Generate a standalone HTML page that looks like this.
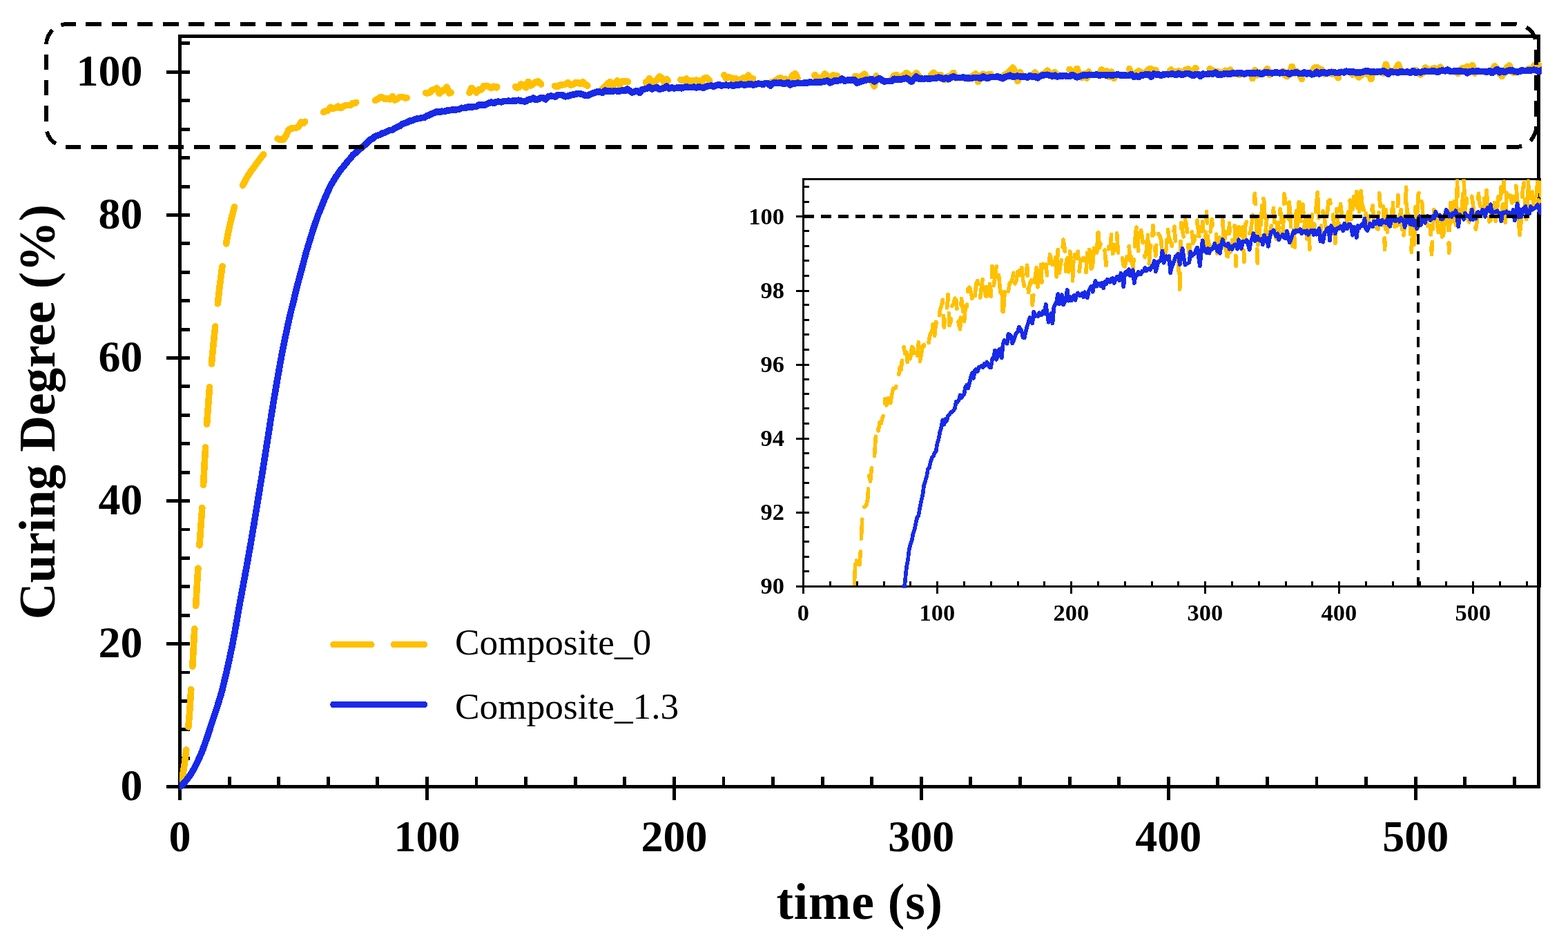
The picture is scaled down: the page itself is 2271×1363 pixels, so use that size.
<!DOCTYPE html>
<html lang="en"><head><meta charset="utf-8"><title>Curing Degree vs time</title>
<style>html,body{margin:0;padding:0;background:#fff}body{width:2271px;height:1363px;overflow:hidden}svg{display:block}</style>
</head><body>
<svg width="2271" height="1363" viewBox="0 0 2271 1363" role="img" aria-label="Curing degree versus time for Composite_0 and Composite_1.3">
<rect width="2271" height="1363" fill="#fff"/>
<defs>
<clipPath id="cm"><rect x="259.9" y="52.5" width="1973.0" height="1091.5"/></clipPath>
<clipPath id="ci"><rect x="1163.6" y="259.5" width="1068.6" height="592.3"/></clipPath>
</defs>
<g stroke="#000" stroke-width="4.9" fill="none" stroke-linecap="butt" shape-rendering="crispEdges">
<path d="M260.5,1158.9 V52.5 H2228.7 V1142.05"/>
<path d="M241.0,1139.6 H2231.15"/>
<path d="M260.5,1098.2 H275.2"/>
<path d="M260.5,1056.8 H275.2"/>
<path d="M260.5,1015.4 H275.2"/>
<path d="M260.5,974.0 H275.2"/>
<path d="M241.0,932.6 H275.2"/>
<path d="M260.5,891.2 H275.2"/>
<path d="M260.5,849.8 H275.2"/>
<path d="M260.5,808.4 H275.2"/>
<path d="M260.5,767.0 H275.2"/>
<path d="M241.0,725.6 H275.2"/>
<path d="M260.5,684.2 H275.2"/>
<path d="M260.5,642.8 H275.2"/>
<path d="M260.5,601.3 H275.2"/>
<path d="M260.5,559.9 H275.2"/>
<path d="M241.0,518.5 H275.2"/>
<path d="M260.5,477.1 H275.2"/>
<path d="M260.5,435.7 H275.2"/>
<path d="M260.5,394.3 H275.2"/>
<path d="M260.5,352.9 H275.2"/>
<path d="M241.0,311.5 H275.2"/>
<path d="M260.5,270.1 H275.2"/>
<path d="M260.5,228.7 H275.2"/>
<path d="M260.5,187.3 H275.2"/>
<path d="M260.5,145.9 H275.2"/>
<path d="M241.0,104.5 H275.2"/>
<path d="M260.5,62.6 H275.2"/>
<path d="M332.1,1125.1 V1139.6"/>
<path d="M403.7,1125.1 V1139.6"/>
<path d="M475.3,1125.1 V1139.6"/>
<path d="M546.9,1125.1 V1139.6"/>
<path d="M618.4,1125.1 V1158.9"/>
<path d="M690.0,1125.1 V1139.6"/>
<path d="M761.6,1125.1 V1139.6"/>
<path d="M833.2,1125.1 V1139.6"/>
<path d="M904.8,1125.1 V1139.6"/>
<path d="M976.4,1125.1 V1158.9"/>
<path d="M1048.0,1125.1 V1139.6"/>
<path d="M1119.6,1125.1 V1139.6"/>
<path d="M1191.2,1125.1 V1139.6"/>
<path d="M1262.7,1125.1 V1139.6"/>
<path d="M1334.3,1125.1 V1158.9"/>
<path d="M1405.9,1125.1 V1139.6"/>
<path d="M1477.5,1125.1 V1139.6"/>
<path d="M1549.1,1125.1 V1139.6"/>
<path d="M1620.7,1125.1 V1139.6"/>
<path d="M1692.3,1125.1 V1158.9"/>
<path d="M1763.9,1125.1 V1139.6"/>
<path d="M1835.5,1125.1 V1139.6"/>
<path d="M1907.0,1125.1 V1139.6"/>
<path d="M1978.6,1125.1 V1139.6"/>
<path d="M2050.2,1125.1 V1158.9"/>
<path d="M2121.8,1125.1 V1139.6"/>
<path d="M2193.4,1125.1 V1139.6"/>
</g>
<g fill="none" stroke-linejoin="round" clip-path="url(#cm)" shape-rendering="crispEdges">
<polyline points="260.5,1139.6 264.1,1126.7 267.7,1103.4 271.2,1074.0 274.8,1028.9 278.4,973.0 282.0,906.8 285.6,843.5 289.1,788.0 292.7,737.4 296.3,669.9 299.9,610.1 303.5,561.3 307.0,520.1 310.6,483.6 314.2,449.8 317.8,417.9 321.4,390.0 324.9,367.5 328.5,347.8 332.1,329.4 335.7,314.4 339.2,300.9 342.8,289.3 346.4,279.4 350.0,271.5 353.6,264.7 357.1,257.9 360.7,252.0 364.3,247.0 367.9,242.0 371.5,237.1 375.0,232.4 378.6,227.4 382.2,223.1 385.8,220.5 389.4,217.0 392.9,213.4 396.5,207.6 400.1,199.5 403.7,201.8 407.3,201.8 410.8,201.9 414.4,196.1 418.0,188.1 421.6,185.8 425.2,185.7 428.7,185.3 432.3,183.5 435.9,177.0 439.5,178.6 443.1,174.6 446.6,174.3 450.2,171.9 453.8,165.8 457.4,163.3 460.9,164.4 464.5,162.1 468.1,162.4 471.7,160.8 475.3,159.9 478.8,155.4 482.4,157.3 486.0,156.4 489.6,154.1 493.2,156.6 496.7,154.5 500.3,152.5 503.9,152.5 507.5,152.4 511.1,149.5 514.6,149.3 518.2,146.7 521.8,147.4 525.4,143.1 529.0,141.0 532.5,142.9 536.1,142.5 539.7,146.5 543.3,145.4 546.9,143.7 550.4,140.9 554.0,141.2 557.6,143.5 561.2,142.5 564.8,143.8 568.3,139.6 571.9,145.0 575.5,143.1 579.1,140.6 582.7,140.4 586.2,141.7 589.8,141.7 593.4,141.4 597.0,138.4 600.5,137.1 604.1,136.7 607.7,133.9 611.3,137.8 614.9,133.9 618.4,135.0 622.0,134.3 625.6,130.6 629.2,129.6 632.8,127.7 636.3,135.5 639.9,131.2 643.5,131.1 647.1,126.2 650.7,135.0 654.2,133.8 657.8,129.5 661.4,129.1 665.0,127.4 668.6,127.8 672.1,132.1 675.7,134.6 679.3,136.0 682.9,127.4 686.5,130.6 690.0,134.2 693.6,129.5 697.2,129.8 700.8,124.6 704.4,124.3 707.9,125.5 711.5,127.4 715.1,125.1 718.7,126.8 722.2,123.2 725.8,122.4 729.4,124.8 733.0,127.2 736.6,124.0 740.1,121.5 743.7,121.5 747.3,126.7 750.9,126.7 754.5,122.0 758.0,122.8 761.6,126.9 765.2,118.3 768.8,124.0 772.4,121.4 775.9,118.7 779.5,117.9 783.1,121.3 786.7,125.8 790.3,123.7 793.8,132.8 797.4,127.1 801.0,123.8 804.6,125.0 808.2,125.3 811.7,123.1 815.3,122.8 818.9,122.0 822.5,119.8 826.1,123.3 829.6,122.4 833.2,119.9 836.8,119.6 840.4,121.6 844.0,118.7 847.5,122.4 851.1,124.1 854.7,121.8 858.3,118.1 861.8,125.7 865.4,123.3 869.0,122.3 872.6,129.3 876.2,125.5 879.7,121.5 883.3,118.7 886.9,124.2 890.5,121.2 894.1,116.9 897.6,122.9 901.2,117.7 904.8,118.3 908.4,117.9 912.0,120.9 915.5,120.4 919.1,115.1 922.7,116.3 926.3,118.0 929.9,117.9 933.4,115.3 937.0,121.4 940.6,113.7 944.2,120.3 947.8,117.8 951.3,116.0 954.9,110.9 958.5,113.1 962.1,119.8 965.7,114.4 969.2,119.9 972.8,114.2 976.4,116.6 980.0,122.5 983.5,114.3 987.1,116.2 990.7,116.2 994.3,114.2 997.9,119.9 1001.4,116.5 1005.0,116.7 1008.6,116.1 1012.2,117.0 1015.8,120.2 1019.3,113.9 1022.9,112.4 1026.5,115.3 1030.1,120.7 1033.7,117.9 1037.2,113.1 1040.8,113.0 1044.4,115.3 1048.0,107.2 1051.6,113.2 1055.1,112.0 1058.7,112.5 1062.3,114.5 1065.9,113.8 1069.5,118.2 1073.0,115.3 1076.6,112.8 1080.2,113.4 1083.8,109.0 1087.4,114.9 1090.9,113.8 1094.5,110.8 1098.1,109.0 1101.7,114.9 1105.3,115.3 1108.8,114.4 1112.4,115.6 1116.0,118.3 1119.6,118.5 1123.1,116.7 1126.7,114.2 1130.3,112.5 1133.9,116.9 1137.5,114.3 1141.0,119.2 1144.6,114.9 1148.2,109.0 1151.8,106.5 1155.4,114.1 1158.9,110.8 1162.5,108.3 1166.1,110.2 1169.7,114.5 1173.3,115.9 1176.8,114.3 1180.4,108.5 1184.0,118.1 1187.6,112.4 1191.2,113.0 1194.7,107.0 1198.3,111.3 1201.9,115.5 1205.5,109.2 1209.1,109.3 1212.6,109.9 1216.2,110.9 1219.8,115.4 1223.4,113.9 1227.0,115.6 1230.5,113.3 1234.1,107.7 1237.7,110.7 1241.3,111.1 1244.8,112.7 1248.4,110.0 1252.0,107.2 1255.6,112.9 1259.2,114.3 1262.7,118.1 1266.3,124.8 1269.9,106.2 1273.5,108.5 1277.1,110.4 1280.6,105.3 1284.2,106.7 1287.8,111.9 1291.4,115.1 1295.0,109.3 1298.5,108.7 1302.1,111.9 1305.7,111.0 1309.3,108.7 1312.9,105.5 1316.4,108.9 1320.0,111.1 1323.6,110.6 1327.2,105.8 1330.8,110.2 1334.3,113.1 1337.9,103.0 1341.5,110.5 1345.1,113.8 1348.7,108.3 1352.2,105.2 1355.8,108.9 1359.4,109.0 1363.0,108.7 1366.6,115.0 1370.1,115.6 1373.7,110.3 1377.3,111.7 1380.9,105.4 1384.4,113.0 1388.0,108.6 1391.6,115.5 1395.2,115.7 1398.8,106.3 1402.3,114.4 1405.9,111.7 1409.5,109.3 1413.1,106.9 1416.7,118.4 1420.2,109.3 1423.8,107.3 1427.4,110.4 1431.0,108.1 1434.6,107.4 1438.1,117.1 1441.7,106.7 1445.3,105.8 1448.9,107.7 1452.5,109.2 1456.0,108.3 1459.6,105.6 1463.2,102.5 1466.8,98.0 1470.4,104.3 1473.9,117.5 1477.5,104.5 1481.1,110.7 1484.7,103.7 1488.3,98.6 1491.8,100.3 1495.4,109.1 1499.0,104.8 1502.6,110.3 1506.2,110.5 1509.7,107.6 1513.3,106.2 1516.9,102.1 1520.5,107.7 1524.0,110.8 1527.6,104.4 1531.2,109.5 1534.8,102.3 1538.4,105.6 1541.9,109.8 1545.5,98.1 1549.1,100.6 1552.7,103.5 1556.3,105.1 1559.8,99.4 1563.4,108.2 1567.0,112.7 1570.6,106.8 1574.2,113.1 1577.7,101.4 1581.3,108.9 1584.9,98.6 1588.5,105.3 1592.1,106.6 1595.6,101.0 1599.2,108.5 1602.8,103.0 1606.4,111.3 1610.0,104.2 1613.5,113.7 1617.1,106.3 1620.7,103.3 1624.3,109.2 1627.9,105.6 1631.4,100.9 1635.0,96.8 1638.6,109.0 1642.2,110.4 1645.7,105.1 1649.3,102.8 1652.9,104.8 1656.5,107.6 1660.1,104.1 1663.6,100.2 1667.2,99.8 1670.8,102.0 1674.4,102.0 1678.0,106.9 1681.5,112.4 1685.1,102.3 1688.7,106.3 1692.3,106.7 1695.9,100.9 1699.4,104.1 1703.0,104.5 1706.6,103.0 1710.2,103.7 1713.8,106.6 1717.3,101.1 1720.9,99.8 1724.5,105.7 1728.1,103.5 1731.7,98.8 1735.2,101.2 1738.8,97.5 1742.4,104.4 1746.0,102.9 1749.6,95.7 1753.1,101.0 1756.7,102.0 1760.3,105.1 1763.9,103.5 1767.5,106.3 1771.0,105.6 1774.6,102.3 1778.2,103.2 1781.8,101.3 1785.3,106.0 1788.9,105.3 1792.5,107.7 1796.1,108.0 1799.7,97.9 1803.2,103.1 1806.8,103.3 1810.4,101.5 1814.0,113.7 1817.6,101.4 1821.1,108.9 1824.7,104.9 1828.3,106.2 1831.9,105.1 1835.5,99.6 1839.0,108.4 1842.6,105.5 1846.2,107.1 1849.8,98.4 1853.4,106.8 1856.9,101.3 1860.5,108.5 1864.1,110.6 1867.7,106.1 1871.3,96.3 1874.8,106.2 1878.4,103.3 1882.0,107.4 1885.6,114.5 1889.2,105.7 1892.7,112.8 1896.3,101.7 1899.9,106.2 1903.5,98.4 1907.0,97.3 1910.6,99.8 1914.2,100.9 1917.8,107.2 1921.4,105.3 1924.9,105.3 1928.5,107.1 1932.1,107.2 1935.7,107.1 1939.3,115.0 1942.8,107.1 1946.4,101.2 1950.0,103.8 1953.6,105.6 1957.2,109.0 1960.7,106.7 1964.3,105.2 1967.9,111.8 1971.5,109.0 1975.1,104.6 1978.6,106.8 1982.2,104.0 1985.8,114.6 1989.4,99.9 1993.0,107.6 1996.5,106.1 2000.1,99.5 2003.7,106.9 2007.3,93.3 2010.9,105.2 2014.4,102.6 2018.0,104.8 2021.6,100.4 2025.2,93.7 2028.8,102.7 2032.3,99.3 2035.9,105.2 2039.5,106.0 2043.1,103.2 2046.6,98.8 2050.2,101.3 2053.8,106.2 2057.4,108.1 2061.0,105.5 2064.5,98.0 2068.1,101.3 2071.7,101.9 2075.3,99.2 2078.9,99.0 2082.4,103.4 2086.0,97.1 2089.6,101.3 2093.2,105.9 2096.8,105.7 2100.3,102.2 2103.9,103.3 2107.5,100.5 2111.1,106.8 2114.7,102.1 2118.2,98.5 2121.8,100.7 2125.4,96.2 2129.0,104.0 2132.6,94.6 2136.1,106.1 2139.7,97.8 2143.3,98.9 2146.9,97.0 2150.5,99.2 2154.0,100.6 2157.6,98.8 2161.2,100.2 2164.8,95.9 2168.3,99.5 2171.9,106.2 2175.5,110.6 2179.1,104.2 2182.7,97.1 2186.2,94.9 2189.8,104.3 2193.4,105.7 2197.0,94.1 2200.6,99.3 2204.1,96.6 2207.7,96.6 2211.3,101.2 2214.9,99.3 2218.5,100.6 2222.0,94.7 2225.6,102.8 2229.2,94.9 2232.8,102.8 2236.4,98.3 2239.9,95.8" stroke="#FFC000" stroke-width="9.6" stroke-linecap="round" stroke-dasharray="54.5 33.3"/>
<polyline points="260.5,1139.6 264.1,1136.6 267.7,1132.8 271.2,1128.4 274.8,1123.7 278.4,1118.0 282.0,1111.8 285.6,1104.2 289.1,1096.9 292.7,1088.6 296.3,1078.5 299.9,1068.5 303.5,1057.4 307.0,1046.6 310.6,1036.0 314.2,1025.0 317.8,1013.4 321.4,1001.2 324.9,986.8 328.5,971.7 332.1,955.2 335.7,938.3 339.2,920.2 342.8,900.0 346.4,878.9 350.0,859.6 353.6,840.1 357.1,821.3 360.7,801.1 364.3,780.3 367.9,759.0 371.5,737.0 375.0,715.5 378.6,693.5 382.2,670.8 385.8,648.1 389.4,625.2 392.9,602.2 396.5,580.3 400.1,558.8 403.7,538.3 407.3,518.2 410.8,500.3 414.4,482.6 418.0,465.8 421.6,450.0 425.2,436.2 428.7,421.0 432.3,407.2 435.9,394.0 439.5,380.4 443.1,366.8 446.6,355.1 450.2,343.2 453.8,331.5 457.4,321.0 460.9,311.1 464.5,302.4 468.1,293.1 471.7,284.6 475.3,276.5 478.8,268.9 482.4,262.9 486.0,256.7 489.6,251.7 493.2,246.2 496.7,242.3 500.3,237.8 503.9,233.2 507.5,229.4 511.1,224.6 514.6,221.7 518.2,218.3 521.8,215.4 525.4,212.4 529.0,209.6 532.5,206.3 536.1,202.5 539.7,200.7 543.3,197.5 546.9,196.2 550.4,195.1 554.0,193.0 557.6,192.1 561.2,190.1 564.8,188.6 568.3,188.1 571.9,185.8 575.5,184.0 579.1,182.4 582.7,179.7 586.2,178.5 589.8,177.3 593.4,175.1 597.0,174.7 600.5,173.0 604.1,171.9 607.7,171.5 611.3,170.6 614.9,170.1 618.4,167.8 622.0,166.7 625.6,164.6 629.2,163.4 632.8,161.4 636.3,162.7 639.9,161.2 643.5,161.7 647.1,160.2 650.7,159.9 654.2,159.2 657.8,159.2 661.4,158.8 665.0,158.2 668.6,156.3 672.1,156.4 675.7,155.9 679.3,154.4 682.9,155.2 686.5,154.6 690.0,154.2 693.6,152.1 697.2,151.6 700.8,152.5 704.4,151.0 707.9,149.4 711.5,148.2 715.1,149.7 718.7,147.4 722.2,147.2 725.8,147.8 729.4,146.7 733.0,146.6 736.6,146.2 740.1,146.7 743.7,145.7 747.3,146.1 750.9,145.2 754.5,146.1 758.0,146.7 761.6,146.7 765.2,144.3 768.8,143.9 772.4,141.9 775.9,144.5 779.5,143.8 783.1,141.7 786.7,141.6 790.3,144.0 793.8,140.1 797.4,139.1 801.0,139.5 804.6,140.0 808.2,137.4 811.7,137.5 815.3,138.0 818.9,139.9 822.5,139.1 826.1,138.0 829.6,137.0 833.2,136.7 836.8,135.4 840.4,135.8 844.0,136.8 847.5,138.3 851.1,138.4 854.7,136.7 858.3,135.2 861.8,134.1 865.4,132.7 869.0,133.1 872.6,134.3 876.2,131.1 879.7,132.3 883.3,132.1 886.9,132.4 890.5,131.4 894.1,132.0 897.6,132.0 901.2,130.9 904.8,131.6 908.4,129.0 912.0,131.4 915.5,134.1 919.1,132.7 922.7,131.5 926.3,134.4 929.9,129.8 933.4,129.0 937.0,128.3 940.6,126.2 944.2,129.0 947.8,127.5 951.3,126.3 954.9,129.2 958.5,128.4 962.1,127.4 965.7,125.0 969.2,128.0 972.8,127.0 976.4,128.0 980.0,127.1 983.5,126.5 987.1,127.8 990.7,126.4 994.3,125.9 997.9,126.5 1001.4,126.6 1005.0,126.0 1008.6,127.0 1012.2,125.6 1015.8,126.7 1019.3,127.2 1022.9,125.3 1026.5,124.6 1030.1,124.0 1033.7,125.5 1037.2,123.8 1040.8,122.5 1044.4,124.0 1048.0,123.4 1051.6,123.2 1055.1,123.9 1058.7,123.0 1062.3,124.5 1065.9,122.7 1069.5,123.4 1073.0,122.0 1076.6,122.8 1080.2,122.8 1083.8,121.9 1087.4,121.7 1090.9,123.1 1094.5,122.2 1098.1,121.2 1101.7,121.5 1105.3,122.4 1108.8,120.3 1112.4,120.9 1116.0,124.1 1119.6,120.3 1123.1,119.9 1126.7,120.6 1130.3,119.3 1133.9,121.0 1137.5,120.9 1141.0,119.4 1144.6,123.1 1148.2,120.7 1151.8,121.0 1155.4,120.0 1158.9,120.7 1162.5,120.6 1166.1,119.7 1169.7,119.8 1173.3,118.8 1176.8,119.7 1180.4,119.1 1184.0,119.0 1187.6,119.3 1191.2,118.4 1194.7,118.0 1198.3,116.9 1201.9,119.8 1205.5,118.5 1209.1,117.0 1212.6,117.0 1216.2,116.4 1219.8,114.1 1223.4,117.5 1227.0,116.2 1230.5,115.6 1234.1,116.5 1237.7,115.6 1241.3,120.2 1244.8,118.6 1248.4,117.7 1252.0,116.6 1255.6,115.5 1259.2,115.3 1262.7,114.9 1266.3,117.9 1269.9,115.5 1273.5,113.4 1277.1,116.0 1280.6,118.0 1284.2,117.6 1287.8,117.5 1291.4,117.3 1295.0,114.3 1298.5,115.5 1302.1,114.9 1305.7,114.9 1309.3,113.9 1312.9,113.1 1316.4,115.5 1320.0,118.3 1323.6,114.5 1327.2,111.1 1330.8,114.1 1334.3,113.6 1337.9,114.6 1341.5,113.4 1345.1,114.7 1348.7,113.5 1352.2,113.7 1355.8,113.1 1359.4,112.0 1363.0,113.0 1366.6,114.2 1370.1,112.7 1373.7,114.7 1377.3,112.3 1380.9,110.9 1384.4,112.4 1388.0,112.5 1391.6,112.7 1395.2,112.0 1398.8,113.5 1402.3,112.8 1405.9,113.6 1409.5,112.8 1413.1,112.3 1416.7,112.3 1420.2,113.6 1423.8,110.9 1427.4,112.6 1431.0,113.4 1434.6,111.4 1438.1,111.5 1441.7,111.4 1445.3,111.0 1448.9,112.3 1452.5,113.7 1456.0,111.5 1459.6,110.5 1463.2,109.2 1466.8,111.3 1470.4,110.8 1473.9,110.1 1477.5,111.0 1481.1,111.1 1484.7,110.7 1488.3,112.3 1491.8,109.6 1495.4,111.3 1499.0,110.5 1502.6,112.8 1506.2,110.7 1509.7,108.8 1513.3,108.7 1516.9,108.3 1520.5,109.3 1524.0,110.0 1527.6,109.2 1531.2,111.0 1534.8,110.2 1538.4,110.0 1541.9,109.5 1545.5,110.4 1549.1,110.6 1552.7,108.5 1556.3,110.0 1559.8,111.8 1563.4,110.7 1567.0,109.6 1570.6,108.6 1574.2,108.9 1577.7,108.3 1581.3,108.6 1584.9,108.7 1588.5,108.0 1592.1,109.2 1595.6,108.5 1599.2,108.5 1602.8,109.1 1606.4,108.4 1610.0,109.5 1613.5,108.7 1617.1,108.2 1620.7,108.3 1624.3,109.6 1627.9,108.4 1631.4,109.5 1635.0,109.3 1638.6,107.8 1642.2,111.3 1645.7,110.0 1649.3,111.6 1652.9,109.0 1656.5,108.7 1660.1,107.8 1663.6,107.7 1667.2,111.2 1670.8,107.0 1674.4,107.9 1678.0,108.0 1681.5,109.2 1685.1,107.9 1688.7,107.6 1692.3,107.8 1695.9,107.2 1699.4,107.3 1703.0,108.5 1706.6,106.3 1710.2,107.9 1713.8,107.9 1717.3,106.6 1720.9,106.6 1724.5,107.5 1728.1,109.7 1731.7,107.3 1735.2,107.6 1738.8,110.4 1742.4,107.0 1746.0,107.7 1749.6,107.2 1753.1,106.5 1756.7,107.1 1760.3,105.0 1763.9,108.0 1767.5,108.4 1771.0,107.7 1774.6,106.4 1778.2,107.0 1781.8,107.3 1785.3,105.8 1788.9,106.5 1792.5,106.1 1796.1,105.3 1799.7,106.7 1803.2,106.8 1806.8,105.4 1810.4,106.1 1814.0,105.8 1817.6,106.3 1821.1,105.2 1824.7,106.8 1828.3,107.2 1831.9,104.7 1835.5,104.9 1839.0,105.6 1842.6,105.8 1846.2,105.2 1849.8,105.2 1853.4,105.9 1856.9,104.8 1860.5,105.5 1864.1,105.5 1867.7,107.4 1871.3,105.6 1874.8,105.2 1878.4,104.9 1882.0,106.6 1885.6,106.6 1889.2,104.8 1892.7,106.9 1896.3,105.6 1899.9,107.9 1903.5,107.1 1907.0,104.3 1910.6,106.9 1914.2,104.6 1917.8,104.9 1921.4,106.2 1924.9,104.8 1928.5,104.3 1932.1,104.7 1935.7,105.5 1939.3,105.2 1942.8,104.3 1946.4,104.9 1950.0,103.1 1953.6,104.0 1957.2,104.2 1960.7,104.0 1964.3,105.2 1967.9,105.2 1971.5,104.7 1975.1,103.9 1978.6,102.6 1982.2,103.3 1985.8,104.4 1989.4,103.8 1993.0,104.6 1996.5,103.5 2000.1,103.9 2003.7,102.8 2007.3,104.6 2010.9,107.3 2014.4,103.9 2018.0,104.4 2021.6,104.6 2025.2,105.2 2028.8,103.4 2032.3,104.3 2035.9,104.3 2039.5,104.2 2043.1,105.3 2046.6,102.5 2050.2,105.3 2053.8,104.2 2057.4,105.0 2061.0,103.4 2064.5,103.2 2068.1,103.7 2071.7,103.6 2075.3,102.5 2078.9,103.5 2082.4,104.5 2086.0,102.5 2089.6,102.0 2093.2,102.9 2096.8,101.1 2100.3,103.4 2103.9,103.3 2107.5,103.2 2111.1,103.3 2114.7,102.9 2118.2,103.4 2121.8,103.4 2125.4,105.8 2129.0,103.4 2132.6,103.2 2136.1,103.4 2139.7,103.0 2143.3,103.4 2146.9,103.3 2150.5,103.7 2154.0,104.1 2157.6,102.6 2161.2,105.6 2164.8,102.9 2168.3,100.8 2171.9,104.7 2175.5,102.4 2179.1,104.5 2182.7,102.9 2186.2,102.0 2189.8,101.6 2193.4,103.5 2197.0,103.8 2200.6,103.7 2204.1,101.6 2207.7,102.6 2211.3,102.3 2214.9,102.1 2218.5,101.7 2222.0,101.1 2225.6,102.1 2229.2,103.4 2232.8,101.2 2236.4,104.1 2239.9,100.6" stroke="#182AE8" stroke-width="9.6" stroke-linecap="round"/>
</g>
<rect x="67" y="35" width="2158" height="178" rx="30" ry="30" fill="none" stroke="#000" stroke-width="5.8" stroke-dasharray="22.5 14.77" stroke-dashoffset="10" shape-rendering="crispEdges"/>
<g stroke="#000" stroke-width="3.0" fill="none" shape-rendering="crispEdges">
<path d="M1163.6,859.8 V259.5 H2230.6 V851.0"/>
<path d="M1152.8999999999999,849.5 H2230.6"/>
<path d="M1163.6,827.6 H1172.3"/>
<path d="M1163.6,806.2 H1172.3"/>
<path d="M1163.6,784.7 H1172.3"/>
<path d="M1163.6,763.3 H1172.3"/>
<path d="M1152.8999999999999,742.4 H1172.3"/>
<path d="M1163.6,720.5 H1172.3"/>
<path d="M1163.6,699.0 H1172.3"/>
<path d="M1163.6,677.6 H1172.3"/>
<path d="M1163.6,656.2 H1172.3"/>
<path d="M1152.8999999999999,635.3 H1172.3"/>
<path d="M1163.6,613.3 H1172.3"/>
<path d="M1163.6,591.9 H1172.3"/>
<path d="M1163.6,570.5 H1172.3"/>
<path d="M1163.6,549.1 H1172.3"/>
<path d="M1152.8999999999999,528.1 H1172.3"/>
<path d="M1163.6,506.2 H1172.3"/>
<path d="M1163.6,484.8 H1172.3"/>
<path d="M1163.6,463.4 H1172.3"/>
<path d="M1163.6,441.9 H1172.3"/>
<path d="M1152.8999999999999,421.0 H1172.3"/>
<path d="M1163.6,399.1 H1172.3"/>
<path d="M1163.6,377.7 H1172.3"/>
<path d="M1163.6,356.2 H1172.3"/>
<path d="M1163.6,334.8 H1172.3"/>
<path d="M1152.8999999999999,313.9 H1172.3"/>
<path d="M1163.6,292.0 H1172.3"/>
<path d="M1163.6,270.6 H1172.3"/>
<path d="M1202.4,841.8 V849.5"/>
<path d="M1241.2,841.8 V849.5"/>
<path d="M1280.0,841.8 V849.5"/>
<path d="M1318.8,841.8 V849.5"/>
<path d="M1357.6,841.8 V859.8"/>
<path d="M1396.4,841.8 V849.5"/>
<path d="M1435.2,841.8 V849.5"/>
<path d="M1474.0,841.8 V849.5"/>
<path d="M1512.8,841.8 V849.5"/>
<path d="M1551.6,841.8 V859.8"/>
<path d="M1590.4,841.8 V849.5"/>
<path d="M1629.2,841.8 V849.5"/>
<path d="M1668.0,841.8 V849.5"/>
<path d="M1706.8,841.8 V849.5"/>
<path d="M1745.6,841.8 V859.8"/>
<path d="M1784.4,841.8 V849.5"/>
<path d="M1823.2,841.8 V849.5"/>
<path d="M1862.0,841.8 V849.5"/>
<path d="M1900.8,841.8 V849.5"/>
<path d="M1939.6,841.8 V859.8"/>
<path d="M1978.4,841.8 V849.5"/>
<path d="M2017.2,841.8 V849.5"/>
<path d="M2056.0,841.8 V849.5"/>
<path d="M2094.8,841.8 V849.5"/>
<path d="M2133.6,841.8 V859.8"/>
<path d="M2172.4,841.8 V849.5"/>
<path d="M2211.2,841.8 V849.5"/>
</g>
<g clip-path="url(#ci)" fill="none" stroke-linejoin="round" shape-rendering="crispEdges">
<polyline points="1163.6,5669.9 1165.5,5603.2 1167.5,5482.6 1169.4,5330.5 1171.4,5097.1 1173.3,4807.6 1175.2,4465.5 1177.2,4137.6 1179.1,3850.4 1181.1,3589.0 1183.0,3239.4 1184.9,2930.0 1186.9,2677.7 1188.8,2464.2 1190.8,2275.4 1192.7,2100.8 1194.6,1935.5 1196.6,1791.2 1198.5,1674.6 1200.5,1572.8 1202.4,1477.7 1204.3,1399.8 1206.3,1330.3 1208.2,1270.0 1210.2,1219.1 1212.1,1178.1 1214.0,1142.6 1216.0,1107.9 1217.9,1076.9 1219.9,1051.2 1221.8,1025.3 1223.7,1000.0 1225.7,975.8 1227.6,949.7 1229.6,927.6 1231.5,914.2 1233.4,896.0 1235.4,877.4 1237.3,847.2 1239.3,805.5 1241.2,817.2 1243.1,817.4 1245.1,817.9 1247.0,788.0 1249.0,746.5 1250.9,734.6 1252.8,734.1 1254.8,731.7 1256.7,722.9 1258.7,689.3 1260.6,697.3 1262.5,676.6 1264.5,674.9 1266.4,662.5 1268.4,631.2 1270.3,618.1 1272.2,624.1 1274.2,611.8 1276.1,613.3 1278.1,605.1 1280.0,600.5 1281.9,577.3 1283.9,587.1 1285.8,582.6 1287.8,570.7 1289.7,583.7 1291.6,572.7 1293.6,562.5 1295.5,562.3 1297.5,561.9 1299.4,546.6 1301.3,545.7 1303.3,532.1 1305.2,535.8 1307.2,513.8 1309.1,502.7 1311.0,512.6 1313.0,510.5 1314.9,531.1 1316.9,525.3 1318.8,516.6 1320.7,502.3 1322.7,503.8 1324.6,515.8 1326.6,510.4 1328.5,517.1 1330.4,495.7 1332.4,523.6 1334.3,513.6 1336.3,500.8 1338.2,499.4 1340.1,506.3 1342.1,506.6 1344.0,504.7 1346.0,489.5 1347.9,482.5 1349.8,480.5 1351.8,466.0 1353.7,486.4 1355.7,466.2 1357.6,471.5 1359.5,468.3 1361.5,448.7 1363.4,443.7 1365.4,434.2 1367.3,474.2 1369.2,452.1 1371.2,451.6 1373.1,426.4 1375.1,471.7 1377.0,465.6 1378.9,443.0 1380.9,441.0 1382.8,432.2 1384.8,434.5 1386.7,456.5 1388.6,469.6 1390.6,476.9 1392.5,432.6 1394.5,448.8 1396.4,467.7 1398.3,443.4 1400.3,444.8 1402.2,418.0 1404.2,416.1 1406.1,422.5 1408.0,432.5 1410.0,420.3 1411.9,429.4 1413.9,410.4 1415.8,406.5 1417.7,418.7 1419.7,431.3 1421.6,414.7 1423.6,401.9 1425.5,401.7 1427.4,428.8 1429.4,428.9 1431.3,404.6 1433.3,408.5 1435.2,429.6 1437.1,385.3 1439.1,414.8 1441.0,401.5 1443.0,387.2 1444.9,383.2 1446.8,400.6 1448.8,423.9 1450.7,413.1 1452.7,460.4 1454.6,431.0 1456.5,413.5 1458.5,419.8 1460.4,421.8 1462.4,410.1 1464.3,408.4 1466.2,404.4 1468.2,392.9 1470.1,411.1 1472.1,406.3 1474.0,393.6 1475.9,392.3 1477.9,402.2 1479.8,387.5 1481.8,406.6 1483.7,415.1 1485.6,403.2 1487.6,384.2 1489.5,423.7 1491.5,411.1 1493.4,406.0 1495.3,442.0 1497.3,422.7 1499.2,402.0 1501.2,387.4 1503.1,416.0 1505.0,400.3 1507.0,378.2 1508.9,409.0 1510.9,382.2 1512.8,385.3 1514.7,383.2 1516.7,399.0 1518.6,396.2 1520.6,368.6 1522.5,375.0 1524.4,383.7 1526.4,383.0 1528.3,369.8 1530.3,401.1 1532.2,361.4 1534.1,395.5 1536.1,382.7 1538.0,373.5 1540.0,347.1 1541.9,358.6 1543.8,392.9 1545.8,365.0 1547.7,393.8 1549.7,364.2 1551.6,376.5 1553.5,407.0 1555.5,364.5 1557.4,374.5 1559.4,374.5 1561.3,364.2 1563.2,393.5 1565.2,376.0 1567.1,377.2 1569.1,373.8 1571.0,378.6 1572.9,394.9 1574.9,362.4 1576.8,354.8 1578.8,369.9 1580.7,397.6 1582.6,383.2 1584.6,358.6 1586.5,357.9 1588.5,369.7 1590.4,328.0 1592.3,359.0 1594.3,352.7 1596.2,355.4 1598.2,365.8 1600.1,362.2 1602.0,384.6 1604.0,369.7 1605.9,356.9 1607.9,360.1 1609.8,337.2 1611.7,367.7 1613.7,361.8 1615.6,346.3 1617.6,337.0 1619.5,367.8 1621.4,369.7 1623.4,365.1 1625.3,371.5 1627.3,385.1 1629.2,386.2 1631.1,377.1 1633.1,364.2 1635.0,355.1 1637.0,377.9 1638.9,364.7 1640.8,390.1 1642.8,367.6 1644.7,337.3 1646.7,324.1 1648.6,363.6 1650.5,346.4 1652.5,333.5 1654.4,343.6 1656.4,365.9 1658.3,372.8 1660.2,364.6 1662.2,334.7 1664.1,384.5 1666.1,355.0 1668.0,357.7 1669.9,326.6 1671.9,349.1 1673.8,370.8 1675.8,338.4 1677.7,338.5 1679.6,341.6 1681.6,347.0 1683.5,370.3 1685.5,362.5 1687.4,371.5 1689.3,359.2 1691.3,330.5 1693.2,345.9 1695.2,348.1 1697.1,356.4 1699.0,342.3 1701.0,328.0 1702.9,357.4 1704.9,364.4 1706.8,384.5 1708.7,419.0 1710.7,322.9 1712.6,334.6 1714.6,344.6 1716.5,318.2 1718.4,325.4 1720.4,352.0 1722.3,368.8 1724.3,338.6 1726.2,335.9 1728.1,352.2 1730.1,347.4 1732.0,335.5 1734.0,319.1 1735.9,336.9 1737.8,348.0 1739.8,345.6 1741.7,320.7 1743.7,343.4 1745.6,358.4 1747.5,306.4 1749.5,345.1 1751.4,362.0 1753.4,333.4 1755.3,317.3 1757.2,336.9 1759.2,337.3 1761.1,335.6 1763.1,368.0 1765.0,371.6 1766.9,343.9 1768.9,351.1 1770.8,318.6 1772.8,357.7 1774.7,335.1 1776.6,370.7 1778.6,371.8 1780.5,323.2 1782.5,364.9 1784.4,351.1 1786.3,338.8 1788.3,326.4 1790.2,385.7 1792.2,339.0 1794.1,328.3 1796.0,344.7 1798.0,332.6 1799.9,328.8 1801.9,379.3 1803.8,325.1 1805.7,320.7 1807.7,330.2 1809.6,338.5 1811.6,333.4 1813.5,319.6 1815.4,303.7 1817.4,280.2 1819.3,312.7 1821.3,381.2 1823.2,314.0 1825.1,346.1 1827.1,310.0 1829.0,283.5 1831.0,292.2 1832.9,337.5 1834.8,315.2 1836.8,343.9 1838.7,345.0 1840.7,329.8 1842.6,322.7 1844.5,301.5 1846.5,330.6 1848.4,346.2 1850.4,313.6 1852.3,339.8 1854.2,302.5 1856.2,319.4 1858.1,341.3 1860.1,280.8 1862.0,293.8 1863.9,308.6 1865.9,316.9 1867.8,287.5 1869.8,333.0 1871.7,356.5 1873.6,325.8 1875.6,358.2 1877.5,298.0 1879.5,336.5 1881.4,283.4 1883.3,318.3 1885.3,324.8 1887.2,296.0 1889.2,334.6 1891.1,306.3 1893.0,349.2 1895.0,312.5 1896.9,361.5 1898.9,323.1 1900.8,307.8 1902.7,338.3 1904.7,319.7 1906.6,295.3 1908.6,273.9 1910.5,337.4 1912.4,344.4 1914.4,317.0 1916.3,305.3 1918.3,315.7 1920.2,330.0 1922.1,312.0 1924.1,291.5 1926.0,289.4 1928.0,300.9 1929.9,300.9 1931.8,326.4 1933.8,355.0 1935.7,302.5 1937.7,323.0 1939.6,325.5 1941.5,295.5 1943.5,312.1 1945.4,314.1 1947.4,306.2 1949.3,309.9 1951.2,324.9 1953.2,296.2 1955.1,289.4 1957.1,319.9 1959.0,309.0 1960.9,284.3 1962.9,296.8 1964.8,277.6 1966.8,313.2 1968.7,305.6 1970.6,268.5 1972.6,295.6 1974.5,300.8 1976.5,317.0 1978.4,308.5 1980.3,323.0 1982.3,319.6 1984.2,302.5 1986.2,307.2 1988.1,297.4 1990.0,321.6 1992.0,318.1 1993.9,330.5 1995.9,332.0 1997.8,279.9 1999.7,306.5 2001.7,307.5 2003.6,298.6 2005.6,361.7 2007.5,297.6 2009.4,336.6 2011.4,316.1 2013.3,322.9 2015.3,317.1 2017.2,288.7 2019.1,334.3 2021.1,319.3 2023.0,327.5 2025.0,282.6 2026.9,325.6 2028.8,297.6 2030.8,334.6 2032.7,345.6 2034.7,322.1 2036.6,271.2 2038.5,322.8 2040.5,307.7 2042.4,329.0 2044.4,365.5 2046.3,319.9 2048.2,357.0 2050.2,299.6 2052.1,322.9 2054.1,282.5 2056.0,276.4 2057.9,289.3 2059.9,295.5 2061.8,327.8 2063.8,318.3 2065.7,317.8 2067.6,327.2 2069.6,327.8 2071.5,327.1 2073.5,368.5 2075.4,327.3 2077.3,297.0 2079.3,310.2 2081.2,319.4 2083.2,337.2 2085.1,325.4 2087.0,317.5 2089.0,351.5 2090.9,337.1 2092.9,314.6 2094.8,325.6 2096.7,311.2 2098.7,366.2 2100.6,290.2 2102.6,329.8 2104.5,322.3 2106.4,288.2 2108.4,326.2 2110.3,256.1 2112.3,317.4 2114.2,304.0 2116.1,315.6 2118.1,292.6 2120.0,257.8 2122.0,304.3 2123.9,286.9 2125.8,317.4 2127.8,321.8 2129.7,307.0 2131.7,284.3 2133.6,297.4 2135.5,322.4 2137.5,332.3 2139.4,319.2 2141.4,280.3 2143.3,297.2 2145.2,300.3 2147.2,286.4 2149.1,285.6 2151.1,308.4 2153.0,275.4 2154.9,297.5 2156.9,321.2 2158.8,319.9 2160.8,301.9 2162.7,307.6 2164.6,293.4 2166.6,325.8 2168.5,301.7 2170.5,282.8 2172.4,294.1 2174.3,270.7 2176.3,311.4 2178.2,262.9 2180.2,322.3 2182.1,279.1 2184.0,284.7 2186.0,275.3 2187.9,286.7 2189.9,293.9 2191.8,284.6 2193.7,291.4 2195.7,269.2 2197.6,288.0 2199.6,322.6 2201.5,345.7 2203.4,312.6 2205.4,275.4 2207.3,264.4 2209.3,312.8 2211.2,320.2 2213.1,259.9 2215.1,287.2 2217.0,272.8 2219.0,272.8 2220.9,296.8 2222.8,286.9 2224.8,293.8 2226.7,263.4 2228.7,305.1 2230.6,264.3 2232.5,304.9 2234.5,281.7 2236.4,268.8" stroke="#FFC000" stroke-width="5.6" stroke-linecap="round" stroke-dasharray="28.2 18.5" stroke-dashoffset="31"/>
<polyline points="1163.6,5669.9 1165.5,5654.3 1167.5,5634.9 1169.4,5611.9 1171.4,5587.4 1173.3,5557.9 1175.2,5525.9 1177.2,5486.8 1179.1,5449.2 1181.1,5406.0 1183.0,5353.9 1184.9,5302.0 1186.9,5244.4 1188.8,5188.6 1190.8,5133.6 1192.7,5076.7 1194.6,5016.8 1196.6,4953.6 1198.5,4879.2 1200.5,4800.9 1202.4,4715.6 1204.3,4628.4 1206.3,4534.9 1208.2,4430.2 1210.2,4321.1 1212.1,4221.1 1214.0,4120.4 1216.0,4022.7 1217.9,3918.4 1219.9,3810.7 1221.8,3700.6 1223.7,3586.9 1225.7,3475.2 1227.6,3361.4 1229.6,3244.1 1231.5,3126.9 1233.4,3008.0 1235.4,2889.0 1237.3,2776.0 1239.3,2664.7 1241.2,2558.3 1243.1,2454.5 1245.1,2361.8 1247.0,2270.3 1249.0,2183.5 1250.9,2101.7 1252.8,2030.3 1254.8,1951.6 1256.7,1880.4 1258.7,1811.9 1260.6,1741.6 1262.5,1671.4 1264.5,1610.7 1266.4,1549.3 1268.4,1488.5 1270.3,1433.9 1272.2,1383.1 1274.2,1337.8 1276.1,1289.8 1278.1,1245.6 1280.0,1203.9 1281.9,1164.5 1283.9,1133.6 1285.8,1101.2 1287.8,1075.4 1289.7,1047.2 1291.6,1026.9 1293.6,1003.8 1295.5,979.7 1297.5,960.4 1299.4,935.5 1301.3,920.6 1303.3,902.8 1305.2,887.6 1307.2,872.5 1309.1,857.7 1311.0,840.6 1313.0,821.2 1314.9,811.6 1316.9,795.2 1318.8,788.2 1320.7,782.5 1322.7,772.0 1324.6,766.9 1326.6,757.0 1328.5,749.2 1330.4,746.7 1332.4,734.6 1334.3,725.4 1336.3,717.1 1338.2,703.2 1340.1,696.8 1342.1,690.5 1344.0,679.1 1346.0,677.2 1347.9,668.4 1349.8,662.7 1351.8,660.8 1353.7,656.2 1355.7,653.1 1357.6,641.3 1359.5,636.0 1361.5,625.0 1363.4,618.7 1365.4,608.3 1367.3,614.8 1369.2,607.1 1371.2,609.8 1373.1,602.3 1375.1,600.6 1377.0,597.1 1378.9,596.8 1380.9,595.0 1382.8,591.7 1384.8,581.8 1386.7,582.5 1388.6,579.8 1390.6,572.2 1392.5,576.2 1394.5,573.2 1396.4,571.1 1398.3,560.3 1400.3,557.6 1402.2,562.1 1404.2,554.3 1406.1,546.4 1408.0,540.2 1410.0,547.8 1411.9,536.1 1413.9,534.8 1415.8,537.9 1417.7,532.0 1419.7,531.5 1421.6,529.8 1423.6,532.2 1425.5,527.0 1427.4,529.4 1429.4,524.4 1431.3,529.0 1433.3,532.1 1435.2,532.2 1437.1,520.0 1439.1,517.7 1441.0,507.4 1443.0,520.9 1444.9,517.0 1446.8,506.2 1448.8,505.8 1450.7,518.4 1452.7,498.0 1454.6,492.8 1456.5,495.2 1458.5,497.6 1460.4,484.1 1462.4,484.6 1464.3,487.3 1466.2,497.3 1468.2,492.8 1470.1,487.0 1472.1,482.3 1474.0,480.6 1475.9,473.7 1477.9,476.0 1479.8,480.8 1481.8,489.0 1483.7,489.4 1485.6,480.6 1487.6,472.5 1489.5,466.9 1491.5,459.9 1493.4,461.6 1495.3,468.2 1497.3,451.5 1499.2,458.0 1501.2,456.5 1503.1,458.0 1505.0,453.2 1507.0,456.3 1508.9,456.1 1510.9,450.5 1512.8,454.1 1514.7,440.7 1516.7,453.3 1518.6,466.8 1520.6,459.9 1522.5,453.7 1524.4,468.5 1526.4,444.9 1528.3,440.9 1530.3,436.8 1532.2,425.9 1534.1,440.7 1536.1,432.7 1538.0,426.9 1540.0,441.6 1541.9,437.4 1543.8,432.3 1545.8,419.8 1547.7,435.7 1549.7,430.1 1551.6,435.4 1553.5,431.1 1555.5,427.6 1557.4,434.7 1559.4,427.4 1561.3,424.4 1563.2,428.0 1565.2,428.4 1567.1,425.0 1569.1,430.4 1571.0,423.0 1572.9,429.0 1574.9,431.3 1576.8,421.4 1578.8,417.8 1580.7,414.8 1582.6,422.8 1584.6,413.9 1586.5,407.0 1588.5,414.8 1590.4,411.7 1592.3,410.7 1594.3,414.3 1596.2,409.7 1598.2,417.4 1600.1,408.0 1602.0,411.6 1604.0,404.4 1605.9,408.4 1607.9,408.7 1609.8,403.9 1611.7,402.7 1613.7,410.2 1615.6,405.6 1617.6,400.5 1619.5,401.8 1621.4,406.4 1623.4,395.8 1625.3,398.9 1627.3,415.3 1629.2,395.7 1631.1,393.4 1633.1,397.2 1635.0,390.3 1637.0,399.5 1638.9,399.0 1640.8,391.2 1642.8,410.2 1644.7,397.5 1646.7,399.3 1648.6,394.1 1650.5,397.5 1652.5,397.2 1654.4,392.4 1656.4,392.8 1658.3,387.9 1660.2,392.6 1662.2,389.6 1664.1,389.2 1666.1,390.7 1668.0,386.1 1669.9,383.6 1671.9,377.9 1673.8,393.3 1675.8,386.3 1677.7,378.7 1679.6,378.6 1681.6,375.6 1683.5,363.5 1685.5,380.9 1687.4,374.7 1689.3,371.3 1691.3,375.8 1693.2,371.2 1695.2,395.2 1697.1,386.8 1699.0,382.1 1701.0,376.3 1702.9,371.0 1704.9,369.7 1706.8,367.9 1708.7,383.2 1710.7,370.7 1712.6,359.7 1714.6,373.5 1716.5,383.7 1718.4,381.8 1720.4,381.4 1722.3,380.1 1724.3,364.8 1726.2,371.0 1728.1,368.0 1730.1,367.8 1732.0,362.4 1734.0,358.5 1735.9,370.9 1737.8,385.3 1739.8,365.7 1741.7,348.2 1743.7,363.6 1745.6,360.9 1747.5,366.4 1749.5,360.1 1751.4,366.7 1753.4,360.5 1755.3,361.4 1757.2,358.4 1759.2,352.9 1761.1,357.9 1763.1,364.0 1765.0,356.2 1766.9,366.9 1768.9,354.4 1770.8,347.0 1772.8,354.6 1774.7,355.2 1776.6,356.3 1778.6,352.5 1780.5,360.7 1782.5,357.1 1784.4,361.2 1786.3,356.8 1788.3,354.2 1790.2,354.4 1792.2,360.7 1794.1,347.2 1796.0,355.6 1798.0,360.0 1799.9,349.8 1801.9,350.3 1803.8,349.6 1805.7,347.7 1807.7,354.2 1809.6,361.7 1811.6,350.0 1813.5,345.1 1815.4,338.1 1817.4,349.0 1819.3,346.6 1821.3,342.7 1823.2,347.6 1825.1,348.0 1827.1,345.9 1829.0,354.4 1831.0,340.5 1832.9,349.1 1834.8,344.7 1836.8,356.9 1838.7,345.8 1840.7,336.3 1842.6,335.8 1844.5,333.4 1846.5,339.0 1848.4,342.5 1850.4,338.4 1852.3,347.5 1854.2,343.2 1856.2,342.1 1858.1,339.8 1860.1,344.6 1862.0,345.3 1863.9,334.8 1865.9,342.2 1867.8,351.5 1869.8,346.0 1871.7,340.5 1873.6,334.9 1875.6,336.8 1877.5,333.5 1879.5,335.1 1881.4,335.4 1883.3,332.1 1885.3,338.3 1887.2,334.7 1889.2,334.5 1891.1,337.8 1893.0,334.1 1895.0,340.0 1896.9,335.4 1898.9,333.3 1900.8,333.7 1902.7,340.1 1904.7,334.0 1906.6,339.7 1908.6,338.8 1910.5,331.0 1912.4,349.3 1914.4,342.3 1916.3,350.7 1918.3,337.3 1920.2,335.6 1922.1,331.1 1924.1,330.2 1926.0,348.5 1928.0,326.9 1929.9,331.6 1931.8,331.8 1933.8,338.4 1935.7,331.3 1937.7,330.2 1939.6,330.9 1941.5,328.1 1943.5,328.1 1945.4,334.4 1947.4,323.4 1949.3,331.5 1951.2,331.7 1953.2,324.8 1955.1,324.5 1957.1,329.3 1959.0,340.7 1960.9,328.4 1962.9,329.8 1964.8,344.2 1966.8,326.9 1968.7,330.6 1970.6,327.6 1972.6,324.4 1974.5,327.4 1976.5,316.4 1978.4,332.1 1980.3,333.9 1982.3,330.2 1984.2,323.7 1986.2,326.8 1988.1,328.2 1990.0,320.7 1992.0,324.4 1993.9,322.4 1995.9,317.8 1997.8,325.4 1999.7,325.6 2001.7,318.6 2003.6,322.3 2005.6,320.7 2007.5,323.2 2009.4,317.5 2011.4,325.9 2013.3,327.8 2015.3,314.7 2017.2,316.0 2019.1,319.5 2021.1,320.4 2023.0,317.5 2025.0,317.4 2026.9,321.0 2028.8,315.3 2030.8,319.0 2032.7,319.0 2034.7,329.0 2036.6,319.6 2038.5,317.4 2040.5,315.8 2042.4,324.9 2044.4,325.0 2046.3,315.7 2048.2,326.5 2050.2,319.8 2052.1,331.4 2054.1,327.1 2056.0,313.1 2057.9,326.2 2059.9,314.3 2061.8,315.7 2063.8,322.8 2065.7,315.2 2067.6,312.9 2069.6,315.2 2071.5,319.1 2073.5,317.3 2075.4,312.9 2077.3,316.0 2079.3,306.5 2081.2,311.1 2083.2,312.3 2085.1,311.4 2087.0,317.6 2089.0,317.7 2090.9,314.9 2092.9,310.8 2094.8,304.0 2096.7,307.7 2098.7,313.6 2100.6,310.4 2102.6,314.2 2104.5,308.5 2106.4,311.0 2108.4,305.1 2110.3,314.6 2112.3,328.4 2114.2,310.6 2116.1,313.5 2118.1,314.6 2120.0,317.7 2122.0,308.4 2123.9,313.1 2125.8,313.0 2127.8,312.5 2129.7,317.8 2131.7,303.4 2133.6,318.0 2135.5,312.5 2137.5,316.7 2139.4,308.1 2141.4,307.2 2143.3,309.7 2145.2,309.2 2147.2,303.8 2149.1,308.6 2151.1,313.9 2153.0,303.5 2154.9,300.9 2156.9,305.9 2158.8,296.2 2160.8,308.1 2162.7,307.8 2164.6,307.1 2166.6,307.5 2168.5,305.4 2170.5,308.1 2172.4,308.4 2174.3,320.5 2176.3,308.1 2178.2,307.3 2180.2,308.4 2182.1,306.2 2184.0,308.4 2186.0,307.9 2187.9,309.7 2189.9,311.9 2191.8,304.0 2193.7,319.6 2195.7,305.9 2197.6,294.9 2199.6,314.9 2201.5,303.2 2203.4,313.9 2205.4,305.8 2207.3,300.8 2209.3,298.7 2211.2,308.9 2213.1,310.5 2215.1,309.5 2217.0,298.9 2219.0,304.1 2220.9,302.4 2222.8,301.4 2224.8,299.4 2226.7,296.5 2228.7,301.3 2230.6,308.3 2232.5,296.7 2234.5,311.7 2236.4,293.9" stroke="#182AE8" stroke-width="5.7" stroke-linecap="round"/>
</g>
<g fill="none" stroke="#000" shape-rendering="crispEdges">
<path d="M1164.3,313.9 H2215.3" stroke-width="5.0" stroke-dasharray="14.7 10.124"/>
<path d="M2054.1,314.2 V849.5" stroke-width="4.0" stroke-dasharray="14.55 10.3"/>
</g>
<g fill="none" stroke-width="9.6" stroke-linecap="round" shape-rendering="crispEdges">
<path d="M483,933.6 H537.8" stroke="#FFC000"/><path d="M570.8,933.6 H614.4" stroke="#FFC000"/>
<path d="M483,1020.5 H614.4" stroke="#182AE8"/>
</g>
<g font-family="'Liberation Serif', 'Times New Roman', serif" fill="#000">
<g font-weight="bold" font-size="64px">
<text x="206.6" y="1158.9" text-anchor="end">0</text>
<text x="206.6" y="951.9" text-anchor="end">20</text>
<text x="206.6" y="744.9" text-anchor="end">40</text>
<text x="206.6" y="537.8" text-anchor="end">60</text>
<text x="206.6" y="330.8" text-anchor="end">80</text>
<text x="206.6" y="123.8" text-anchor="end">100</text>
<text x="260.5" y="1233.2" text-anchor="middle">0</text>
<text x="618.4" y="1233.2" text-anchor="middle">100</text>
<text x="976.4" y="1233.2" text-anchor="middle">200</text>
<text x="1334.3" y="1233.2" text-anchor="middle">300</text>
<text x="1692.3" y="1233.2" text-anchor="middle">400</text>
<text x="2050.2" y="1233.2" text-anchor="middle">500</text>
</g>
<g font-weight="bold" font-size="32.8px">
<text transform="translate(1135.9,860.3) scale(1.05,1)" text-anchor="end">90</text>
<text transform="translate(1135.9,753.2) scale(1.05,1)" text-anchor="end">92</text>
<text transform="translate(1135.9,646.1) scale(1.05,1)" text-anchor="end">94</text>
<text transform="translate(1135.9,538.9) scale(1.05,1)" text-anchor="end">96</text>
<text transform="translate(1135.9,431.8) scale(1.05,1)" text-anchor="end">98</text>
<text transform="translate(1135.9,324.7) scale(1.05,1)" text-anchor="end">100</text>
<text transform="translate(1163.4,899.4) scale(1.05,1)" text-anchor="middle">0</text>
<text transform="translate(1357.4,899.4) scale(1.05,1)" text-anchor="middle">100</text>
<text transform="translate(1551.4,899.4) scale(1.05,1)" text-anchor="middle">200</text>
<text transform="translate(1745.4,899.4) scale(1.05,1)" text-anchor="middle">300</text>
<text transform="translate(1939.4,899.4) scale(1.05,1)" text-anchor="middle">400</text>
<text transform="translate(2133.4,899.4) scale(1.05,1)" text-anchor="middle">500</text>
</g>
<text x="1245.2" y="1331" text-anchor="middle" font-weight="bold" font-size="73.6px" letter-spacing="0.8">time (s)</text>
<text transform="translate(79.2,596.6) rotate(-90)" text-anchor="middle" font-weight="bold" font-size="73.3px">Curing Degree (%)</text>
<text x="659" y="947.6" font-size="53.3px">Composite_0</text>
<text x="659" y="1041.4" font-size="53.3px">Composite_1.3</text>
</g>
</svg>
</body></html>
